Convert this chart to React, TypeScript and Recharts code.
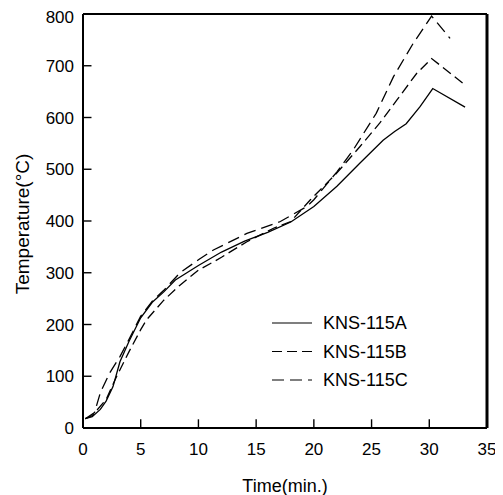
import React from 'react';
import { LineChart, Line, XAxis, YAxis, ReferenceLine, Legend, Label } from 'recharts';

// ---- data ----
const timeA = [0.2, 0.8, 1.5, 2, 2.6, 3.2, 4, 5, 6, 7, 8, 9, 10, 12, 14, 16, 18, 20, 22, 24, 26, 27, 28, 29.2, 30.3, 33.1];
const tempA = [18, 22, 36, 52, 80, 128, 168, 213, 243, 263, 286, 300, 314, 340, 361, 378, 398, 428, 467, 512, 556, 573, 588, 621, 656, 620];

const timeB = [0.2, 0.8, 2, 2.9, 4, 5, 5.5, 7, 8.4, 10, 11.3, 12, 14.2, 16.5, 18, 19.7, 22, 24, 25.7, 27.2, 28.9, 30.2, 33.1];
const tempB = [18, 24, 55, 99, 148, 190, 209, 247, 276, 305, 321, 330, 360, 386, 399, 441, 493, 544, 589, 634, 685, 714, 663];

const timeC = [0.2, 1, 1.5, 2.3, 3.2, 4, 5, 6, 7, 8.4, 10, 11.3, 14.2, 17.1, 19.4, 20, 22, 23.4, 25.4, 26.9, 28.6, 30.2, 31.8];
const tempC = [18, 30, 68, 106, 138, 172, 216, 245, 266, 300, 325, 344, 376, 399, 428, 441, 495, 537, 608, 679, 743, 796, 753];

const seriesNames = ['KNS-115A', 'KNS-115B', 'KNS-115C'];
const xTicks = [0, 5, 10, 15, 20, 25, 30, 35];
const yTicks = [0, 100, 200, 300, 400, 500, 600, 700, 800];

const toRows = (t: number[], v: number[]) => t.map((x, i) => ({ t: x, v: v[i] }));
const seriesData = [toRows(timeA, tempA), toRows(timeB, tempB), toRows(timeC, tempC)];

// ---- styles ----
const FONT = '"Liberation Sans", Arial, sans-serif';
const dashes = [undefined, '10 5', '12 6'];
const X_MAX = 35;
const Y_MAX = 800;
// inward tick length expressed as a fraction of the axis span (about 8-9 px)
const X_TICK_FRAC = 0.021;
const Y_TICK_FRAC = 0.021;

const renderYTick = (props: any) => (
  <text x={props.x} y={props.y} dy="0.36em" textAnchor="end" fontFamily={FONT} fontSize={17} fill="#000">
    {props.payload.value}
  </text>
);

const renderXTick = (props: any) => (
  <text x={props.x} y={props.y} dy="0.71em" textAnchor="middle" fontFamily={FONT} fontSize={17} fill="#000">
    {props.payload.value}
  </text>
);

const LegendBox = () => (
  <svg width={160} height={90}>
    {seriesNames.map((n, i) => (
      <g key={n}>
        <line x1={0} x2={40} y1={12 + i * 28.5} y2={12 + i * 28.5} stroke="#000" strokeWidth={1.2} strokeDasharray={dashes[i]} />
        <text x={51} y={18 + i * 28.5} fontFamily={FONT} fontSize={18} fill="#000">{n}</text>
      </g>
    ))}
  </svg>
);

export default function App() {
  return (
    <LineChart width={495} height={487} margin={{ top: 6, right: 16, bottom: 0, left: 0 }}>
      <XAxis
        dataKey="t"
        type="number"
        domain={[0, X_MAX]}
        ticks={xTicks}
        allowDataOverflow
        height={67}
        tickSize={0}
        tickMargin={15}
        tick={renderXTick}
        axisLine={{ stroke: '#000', strokeWidth: 2 }}
        tickLine={false}
      >
        <Label
          content={(p: any) => {
            const vb = p.viewBox;
            return (
              <text x={vb.x + vb.width / 2} y={484} textAnchor="middle" fontFamily={FONT} fontSize={18} fill="#000">
                Time(min.)
              </text>
            );
          }}
        />
      </XAxis>
      <YAxis
        type="number"
        domain={[0, Y_MAX]}
        ticks={yTicks}
        width={75}
        tickSize={0}
        tickMargin={9}
        tick={renderYTick}
        axisLine={{ stroke: '#000', strokeWidth: 2 }}
        tickLine={false}
      >
        <Label
          content={(p: any) => {
            const vb = p.viewBox;
            const cx = 14;
            const cy = vb.y + vb.height / 2 + 3;
            return (
              <text
                x={cx}
                y={cy}
                textAnchor="middle"
                dominantBaseline="central"
                transform={`rotate(-90, ${cx}, ${cy})`}
                fontFamily={FONT}
                fontSize={19}
                fill="#000"
              >
                Temperature(°C)
              </text>
            );
          }}
        />
      </YAxis>
      {xTicks.slice(1, -1).map((t) => (
        <ReferenceLine
          key={`xt${t}`}
          segment={[{ x: t, y: 0 }, { x: t, y: Y_MAX * X_TICK_FRAC }]}
          stroke="#000"
          strokeWidth={1.4}
        />
      ))}
      {yTicks.slice(1, -1).map((v) => (
        <ReferenceLine
          key={`yt${v}`}
          segment={[{ x: 0, y: v }, { x: X_MAX * Y_TICK_FRAC, y: v }]}
          stroke="#000"
          strokeWidth={1.4}
        />
      ))}
      <ReferenceLine y={Y_MAX} stroke="#000" strokeWidth={2} />
      <ReferenceLine x={X_MAX} stroke="#000" strokeWidth={3} />
      {seriesData.map((d, i) => (
        <Line
          key={seriesNames[i]}
          data={d}
          dataKey="v"
          name={seriesNames[i]}
          type="linear"
          stroke="#000"
          strokeWidth={1.3}
          strokeDasharray={dashes[i]}
          dot={false}
          activeDot={false}
          isAnimationActive={false}
        />
      ))}
      <Legend
        layout="vertical"
        align="center"
        verticalAlign="middle"
        content={() => <LegendBox />}
        wrapperStyle={{ left: 264, top: 303, width: 160, height: 90 }}
      />
    </LineChart>
  );
}
